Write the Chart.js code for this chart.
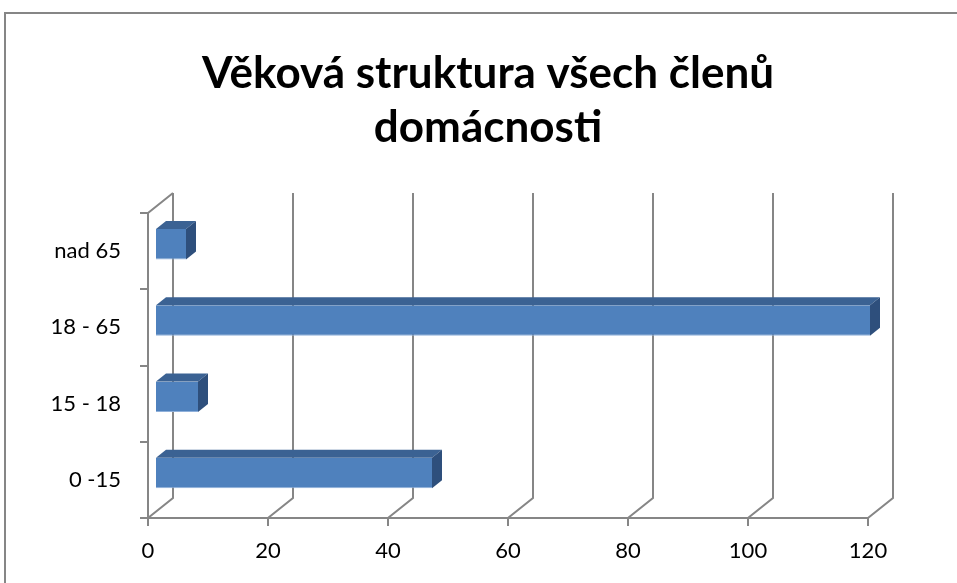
<!DOCTYPE html>
<html>
<head>
<meta charset="utf-8">
<script src="https://cdn.jsdelivr.net/npm/chart.js@4"></script>
<style>
  html, body { margin: 0; padding: 0; background: #fff; }
  #wrap { width: 957px; height: 583px; }
</style>
</head>
<body>
<div id="wrap"><canvas id="barChart"></canvas></div>
<script>
// Věková struktura: categories listed bottom to top
const categories = ['0 -15', '15 - 18', '18 - 65', 'nad 65'];
const members = [46, 7, 119, 5];
const xTicks = [0, 20, 40, 60, 80, 100, 120];

// 3D look: wall depth, bar position inside the depth, bar thickness in depth
const wall = { x: 25, y: -20 };
const barShift = { x: 8, y: -7 };
const barDepth = { x: 10, y: -8 };

const box3d = {
    id: 'box3d',
    beforeDatasetsDraw(chart) {
        const { ctx, chartArea: a, scales: { x } } = chart;
        ctx.save();
        // outer frame
        ctx.strokeStyle = '#868686';
        ctx.lineWidth = 2;
        ctx.strokeRect(5, 13, 1000, 1000);

        ctx.beginPath();
        xTicks.forEach(v => {
            const px = Math.round(x.getPixelForValue(v));
            ctx.moveTo(px, a.bottom + 8);
            ctx.lineTo(px, a.bottom);
            ctx.lineTo(px + wall.x, a.bottom + wall.y);
            ctx.lineTo(px + wall.x, a.top + wall.y);
        });
        // front edge of floor
        ctx.moveTo(a.left - 8, a.bottom);
        ctx.lineTo(a.right, a.bottom);
        // side wall
        ctx.moveTo(a.left, a.bottom);
        ctx.lineTo(a.left, a.top);
        ctx.lineTo(a.left + wall.x, a.top + wall.y);
        // category ticks
        const band = (a.bottom - a.top) / categories.length;
        for (let i = 0; i < categories.length; i++) {
            const py = Math.round(a.top + i * band);
            ctx.moveTo(a.left - 8, py);
            ctx.lineTo(a.left, py);
        }
        ctx.stroke();
        ctx.restore();

        ctx.save();
        ctx.translate(barShift.x, barShift.y);
    },
    afterDatasetsDraw(chart) {
        const { ctx } = chart;
        chart.getDatasetMeta(0).data.forEach(bar => {
            const { x: xe, y: ye, base, height } = bar.getProps(['x', 'y', 'base', 'height'], true);
            const top = ye - height / 2, bot = ye + height / 2;
            ctx.fillStyle = '#3b6293';
            ctx.beginPath();
            ctx.moveTo(base, top);
            ctx.lineTo(xe, top);
            ctx.lineTo(xe + barDepth.x, top + barDepth.y);
            ctx.lineTo(base + barDepth.x, top + barDepth.y);
            ctx.closePath();
            ctx.fill();
            ctx.fillStyle = '#2e4f7c';
            ctx.beginPath();
            ctx.moveTo(xe, top);
            ctx.lineTo(xe + barDepth.x, top + barDepth.y);
            ctx.lineTo(xe + barDepth.x, bot + barDepth.y);
            ctx.lineTo(xe, bot);
            ctx.closePath();
            ctx.fill();
        });
        ctx.restore();
    }
};

const ctxBar = document.getElementById('barChart').getContext('2d');
new Chart(ctxBar, {
    type: 'bar',
    data: {
        labels: categories,
        datasets: [{
            data: members,
            backgroundColor: '#4f81bd',
            borderColor: '#8fb0da',
            borderWidth: { bottom: 1, top: 0, left: 0, right: 0 },
            borderSkipped: false,
            categoryPercentage: 1,
            barPercentage: 0.4
        }]
    },
    plugins: [box3d],
    options: {
        indexAxis: 'y',
        responsive: true,
        maintainAspectRatio: false,
        animation: false,
        layout: { padding: { left: 45, right: 26, top: 0, bottom: 0 } },
        plugins: {
            legend: { display: false },
            tooltip: { enabled: false },
            title: {
                display: true,
                text: ['Věková struktura všech členů', 'domácnosti'],
                color: '#000',
                font: { family: 'Lato', weight: 'bold', size: 44, lineHeight: 54 / 44 },
                padding: { top: 47, bottom: 58 }
            }
        },
        scales: {
            x: {
                min: 0,
                max: 120,
                ticks: {
                    stepSize: 20,
                    padding: 20,
                    color: '#000',
                    font: { family: 'Lato', size: 22 }
                },
                grid: { display: false, drawTicks: false },
                border: { display: false },
                afterFit(s) { s.height = 65; }
            },
            y: {
                reverse: true,
                ticks: {
                    padding: 27,
                    color: '#000',
                    font: { family: 'Lato', size: 22 }
                },
                grid: { display: false, drawTicks: false },
                border: { display: false },
                afterFit(s) { s.width = 103; }
            },
            // empty right-hand space so the title sits where it does in the original
            spacer: {
                type: 'category',
                position: 'right',
                ticks: { display: false },
                grid: { display: false, drawTicks: false },
                border: { display: false },
                afterFit(s) { s.width = 63; }
            }
        }
    }
});
</script>
</body>
</html>
